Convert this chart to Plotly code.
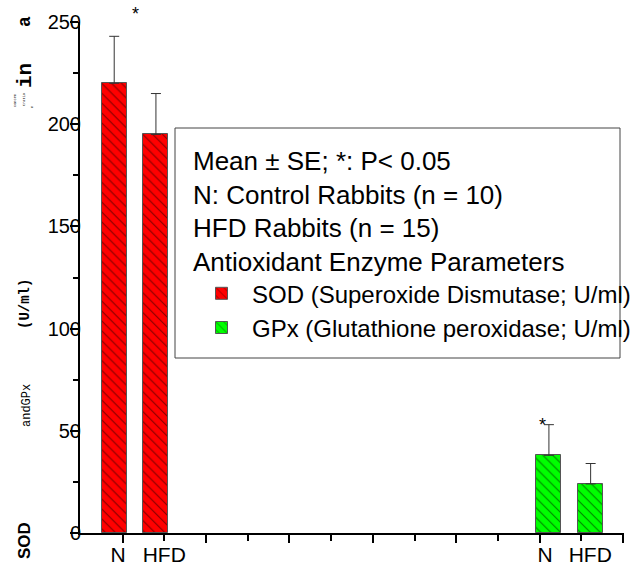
import plotly.graph_objects as go

# ---- data ----
groups = ["N", "HFD"]
sod_mean = [220, 195]
sod_se = [23, 20]
gpx_mean = [38, 24]
gpx_se = [15, 10]
sod_x = [-0.2, 0.8]
gpx_x = [10.22, 11.22]
sod_label_x = [-0.11, 1.0]
gpx_label_x = [10.13, 11.21]
sig_sod = "*"
sig_gpx = "*"
ytick_vals = [0, 50, 100, 150, 200, 250]
legend_lines = ["Mean ± SE; *: P< 0.05", "N: Control Rabbits (n = 10)",
                "HFD Rabbits (n = 15)", "Antioxidant Enzyme Parameters"]
sod_name = "SOD (Superoxide Dismutase; U/ml)"
gpx_name = "GPx (Glutathione peroxidase; U/ml)"

W, H = 644, 570
L, R, T, B = 80, 20, 22, 37
pw, ph = W - L - R, H - T - B


def px(x):
    return (x - L) / pw


def py(y):
    return (H - B - y) / ph


FONT = "Liberation Sans, Arial, sans-serif"
MONO = "Liberation Mono, Courier New, monospace"

fig = go.Figure()

fig.add_trace(go.Bar(
    x=sod_x, y=sod_mean, width=0.6, name=sod_name,
    marker=dict(color="#ff0000", line=dict(color="#555555", width=1),
                pattern=dict(shape="\\", fillmode="overlay", fgcolor="#000000",
                             size=7, solidity=0.15)),
    error_y=dict(type="data", array=sod_se, arrayminus=[0] * len(sod_se),
                 symmetric=False, color="#333333", thickness=1, width=5),
))
fig.add_trace(go.Bar(
    x=gpx_x, y=gpx_mean, width=0.6, name=gpx_name,
    marker=dict(color="#00ff00", line=dict(color="#555555", width=1),
                pattern=dict(shape="\\", fillmode="overlay", fgcolor="#000000",
                             size=7, solidity=0.15)),
    error_y=dict(type="data", array=gpx_se, arrayminus=[0] * len(gpx_se),
                 symmetric=False, color="#333333", thickness=1, width=5),
))

# invisible traces carrying the extra overlaid x axes (long ticks, group labels)
for xa in ("x2", "x3"):
    fig.add_trace(go.Scatter(x=[0], y=[0], xaxis=xa, mode="markers",
                             marker=dict(opacity=0), showlegend=False, hoverinfo="skip"))

xt = list(range(0, 13))
label_vals = sod_label_x + gpx_label_x
label_text = groups + groups

xr = [-1.02, 12.02]
fig.update_layout(
    width=W, height=H,
    margin=dict(l=L, r=R, t=T, b=B, autoexpand=False),
    paper_bgcolor="white", plot_bgcolor="white",
    font=dict(family=FONT, color="black"),
    bargap=0,
    xaxis=dict(range=xr, tickmode="array", tickvals=xt, showticklabels=False,
               ticks="outside", ticklen=6, tickwidth=2, tickcolor="black",
               showline=True, linecolor="black", linewidth=2, showgrid=False,
               zeroline=False, automargin=False),
    xaxis2=dict(range=xr, overlaying="x", anchor="y", side="bottom",
                tickmode="array", tickvals=xt[::2], ticks="outside", ticklen=9,
                tickwidth=2, tickcolor="black", showticklabels=False, automargin=False,
                showline=False, showgrid=False, zeroline=False),
    xaxis3=dict(range=xr, overlaying="x", anchor="y", side="bottom",
                tickmode="array", tickvals=label_vals, ticktext=label_text,
                ticks="", ticklabelstandoff=7, automargin=False,
                showline=False, showgrid=False, zeroline=False,
                tickfont=dict(size=21, family=FONT)),
    yaxis=dict(range=[0, 250], tickmode="array", tickvals=ytick_vals,
               ticks="outside", ticklen=8, tickwidth=2, tickcolor="black",
               minor=dict(dtick=25, tick0=0, ticks="outside", ticklen=5,
                          tickwidth=2, tickcolor="black"),
               ticklabelstandoff=-15, automargin=False,
               showline=True, linecolor="black", linewidth=2, showgrid=False,
               zeroline=False, tickfont=dict(size=20, family=FONT)),
    showlegend=True,
    legend=dict(x=px(191), y=py(136), xanchor="left", yanchor="top",
                bgcolor="rgba(0,0,0,0)", borderwidth=0, itemwidth=51,
                title=dict(text="<br>".join(legend_lines),
                           font=dict(size=26, family=FONT)),
                font=dict(size=24, family=FONT), tracegroupgap=0),
)

# legend frame
fig.add_shape(type="rect", xref="paper", yref="paper",
              x0=px(175), x1=px(620), y0=py(358), y1=py(128),
              line=dict(color="#444444", width=1), fillcolor="rgba(0,0,0,0)", layer="above")

# significance asterisks
fig.add_annotation(x=0.3, y=(sod_mean[0] + sod_se[0] + 12) / 250, yref="paper",
                   text=sig_sod, showarrow=False, xanchor="center", yanchor="middle",
                   font=dict(size=18, family=FONT), yshift=-2)
fig.add_annotation(x=10.06, y=gpx_mean[0] + gpx_se[0] + 1, text=sig_gpx, showarrow=False,
                   xanchor="center", yanchor="middle",
                   font=dict(size=18, family=FONT), yshift=-2)


# garbled y-axis title pieces
def ylab(text, x, y, size, family, bold=False):
    t = f"<b>{text}</b>" if bold else text
    fig.add_annotation(x=px(x), y=py(y), xref="paper", yref="paper", text=t,
                       showarrow=False, textangle=-90, xanchor="center", yanchor="middle",
                       font=dict(size=size, family=family, color="black"))


ylab("SOD", 24, 541, 17, FONT, True)
ylab("andGPx", 27, 406, 12, MONO)
ylab("(U/ml)", 25, 304, 14, MONO, True)
ylab("in", 25, 76, 21, MONO, True)
ylab("a", 25, 22, 18, MONO, True)
ylab("concen", 15, 101, 3.6, MONO)
ylab("tratio", 24, 100, 3.6, MONO)
ylab("n", 32, 107, 3.6, MONO)

fig.write_html("out.html")
